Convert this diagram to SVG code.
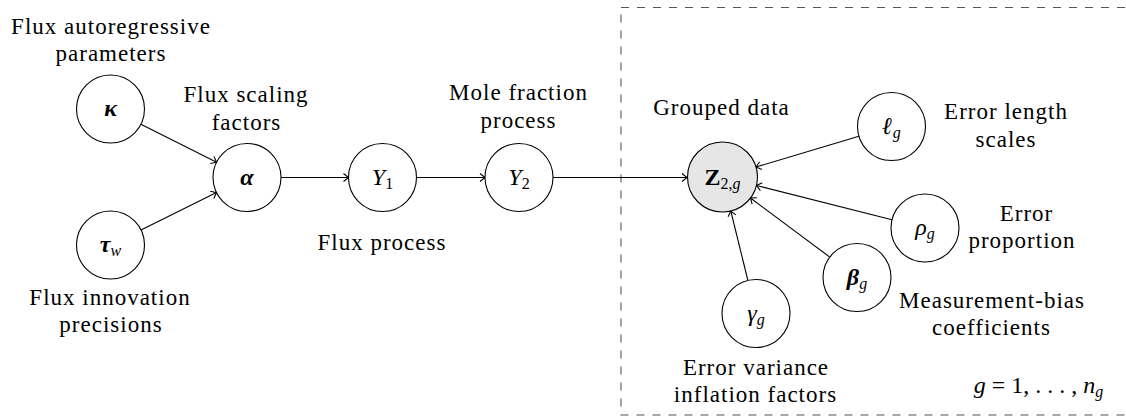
<svg xmlns="http://www.w3.org/2000/svg" width="1126" height="417" viewBox="0 0 1126 417" font-family="Liberation Serif, Times New Roman, serif">
<style>
text{font-family:"Liberation Serif","Times New Roman",serif}
.lbl{font-size:23px;letter-spacing:1px;fill:#000;text-anchor:middle}
.m{font-size:24px;fill:#000;text-anchor:middle}
.bi{font-weight:bold;font-style:italic}
.it{font-style:italic}
.b{font-weight:bold}
.sub{font-size:16px}
.node{fill:#fff;stroke:#000;stroke-width:1.1}
.obs{fill:#e6e6e6;stroke:#000;stroke-width:1.1}
.edge{stroke:#000;stroke-width:1.1;fill:none;marker-end:url(#arr)}
</style>
<defs>
<marker id="arr" markerUnits="userSpaceOnUse" markerWidth="12" markerHeight="12" viewBox="-8 -6 10 12" refX="0" refY="0" orient="auto">
<path d="M-5,-4 Q-1.5,-1.2 0,0 Q-1.5,1.2 -5,4" fill="none" stroke="#000" stroke-width="1.1"/>
</marker>
</defs>
<rect x="621" y="7.5" width="520" height="407.5" fill="none" stroke="#555" stroke-width="1.1" stroke-dasharray="8 8"/>
<g id="connectors">
<line class="edge" x1="140.9" y1="124.3" x2="216.6" y2="162.2"/>
<line class="edge" x1="141" y1="229.9" x2="216.5" y2="192.6"/>
<line class="edge" x1="281" y1="177.5" x2="348.5" y2="177.5"/>
<line class="edge" x1="416.5" y1="177.5" x2="485" y2="177.5"/>
<line class="edge" x1="553" y1="177.5" x2="687" y2="177.5"/>
<line class="edge" x1="858.9" y1="136.2" x2="756" y2="167"/>
<line class="edge" x1="892" y1="219.7" x2="756.5" y2="185.5"/>
<line class="edge" x1="829.8" y1="257.1" x2="750.5" y2="198"/>
<line class="edge" x1="747.9" y1="280.5" x2="730.8" y2="211"/>
</g>
<g id="kappa">
<circle class="node" cx="110.5" cy="109" r="34"/>
<text class="m bi" x="110.5" y="116">κ</text>
<text class="lbl" x="111" y="34">Flux autoregressive</text>
<text class="lbl" x="111" y="61">parameters</text>
</g>
<g id="tau">
<circle class="node" cx="110.5" cy="245" r="34"/>
<text class="m" x="110.5" y="252"><tspan class="bi">τ</tspan><tspan class="it sub" dy="4">w</tspan></text>
<text class="lbl" x="110" y="305">Flux innovation</text>
<text class="lbl" x="111" y="332">precisions</text>
</g>
<g id="alpha">
<circle class="node" cx="247" cy="177.5" r="34"/>
<text class="m bi" x="247" y="184.5">α</text>
<text class="lbl" x="246" y="102">Flux scaling</text>
<text class="lbl" x="246.5" y="130">factors</text>
</g>
<g id="Y1">
<circle class="node" cx="382.5" cy="177.5" r="34"/>
<text class="m" x="382.5" y="185"><tspan class="it">Y</tspan><tspan class="sub" dy="4">1</tspan></text>
<text class="lbl" x="382" y="250">Flux process</text>
</g>
<g id="Y2">
<circle class="node" cx="519" cy="177.5" r="34"/>
<text class="m" x="519" y="185"><tspan class="it">Y</tspan><tspan class="sub" dy="4">2</tspan></text>
<text class="lbl" x="518.5" y="100">Mole fraction</text>
<text class="lbl" x="518.5" y="128">process</text>
</g>
<g id="Z">
<circle class="obs" cx="722.5" cy="177" r="35"/>
<text class="m" x="722.5" y="184.5"><tspan class="b">Z</tspan><tspan class="sub" dy="4">2,</tspan><tspan class="sub it">g</tspan></text>
<text class="lbl" x="721.5" y="115">Grouped data</text>
</g>
<g id="ell">
<circle class="node" cx="891.5" cy="126.5" r="34"/>
<text class="m" x="891.5" y="133.5"><tspan class="bi">ℓ</tspan><tspan class="it sub" dy="4">g</tspan></text>
<text class="lbl" x="1006" y="119">Error length</text>
<text class="lbl" x="1006" y="147">scales</text>
</g>
<g id="rho">
<circle class="node" cx="925" cy="228" r="34"/>
<text class="m" x="925" y="235"><tspan class="it">ρ</tspan><tspan class="it sub" dy="4">g</tspan></text>
<text class="lbl" x="1026.5" y="221">Error</text>
<text class="lbl" x="1022" y="248">proportion</text>
</g>
<g id="beta">
<circle class="node" cx="857" cy="277.5" r="34"/>
<text class="m" x="857" y="284.5"><tspan class="bi">β</tspan><tspan class="it sub" dy="4">g</tspan></text>
<text class="lbl" x="992" y="308">Measurement-bias</text>
<text class="lbl" x="991.5" y="335">coefficients</text>
</g>
<g id="gamma">
<circle class="node" cx="756" cy="313.5" r="34"/>
<text class="m" x="756" y="320.5"><tspan class="it">γ</tspan><tspan class="it sub" dy="4">g</tspan></text>
<text class="lbl" x="756" y="375">Error variance</text>
<text class="lbl" x="755.5" y="402">inflation factors</text>
</g>
<g id="plate-label">
<text class="m" x="1038.5" y="393"><tspan class="it">g</tspan> = 1, . . . , <tspan class="it">n</tspan><tspan class="it sub" dy="4">g</tspan></text>
</g>
</svg>
